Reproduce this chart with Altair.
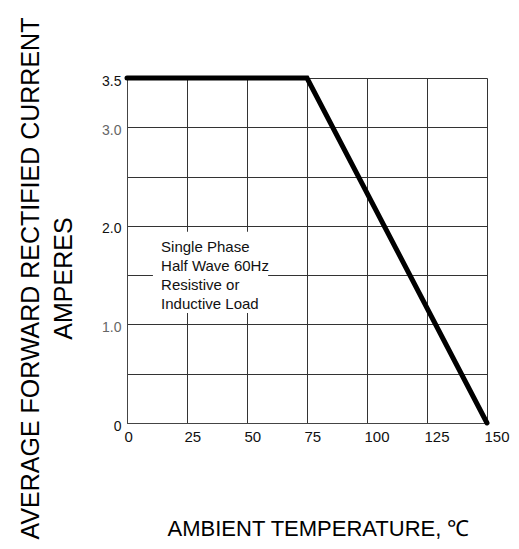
import altair as alt
import pandas as pd

# Derating curve
temp = [0, 75, 150]
current = [3.5, 3.5, 0]

# Annotation box (data coordinates)
box_x = [10.8]
box_x2 = [58.8]
box_y = [1.94]
box_y2 = [1.115]

note_lines = ["Single Phase", "Half Wave 60Hz", "Resistive or", "Inductive Load"]
note_x = [14.2, 14.2, 14.2, 14.2]
note_y = [1.79, 1.595, 1.40, 1.207]

x_ticks = [0, 25, 50, 75, 100, 125, 150]
y_ticks = [0, 0.5, 1.0, 1.5, 2.0, 2.5, 3.0, 3.5]

FONT = "Liberation Sans"

curve = pd.DataFrame({"t": temp, "i": current})
box = pd.DataFrame({"x": box_x, "x2": box_x2, "y": box_y, "y2": box_y2})
notes = pd.DataFrame({"label": note_lines, "x": note_x, "y": note_y})

xscale = alt.Scale(domain=[0, 150], nice=False, zero=False)
yscale = alt.Scale(domain=[0, 3.5], nice=False, zero=False)

xaxis = alt.Axis(
    values=x_ticks,
    title="AMBIENT TEMPERATURE, ℃",
    titleFont=FONT, titleFontSize=22, titleFontWeight="normal", titleColor="#000",
    titleX=191, titleY=112, titleAlign="center", titleBaseline="alphabetic",
    labelFont=FONT, labelFontSize=15, labelColor="#111",
    labelAlign="left", labelOffset=-3, labelPadding=6, labelBaseline="top",
    ticks=False, grid=True, gridColor="#333", gridWidth=1,
    domainColor="#444", labelFlush=False, labelOverlap=False,
)
yaxis = alt.Axis(
    values=y_ticks,
    title=["AVERAGE FORWARD RECTIFIED CURRENT", "AMPERES"],
    titleFont=FONT, titleFontSize=25, titleFontWeight="normal", titleColor="#000",
    titleX=-97, titleY=200, titleAlign="center", titleBaseline="middle",
    titleAngle=-90, titleLineHeight=33,
    labelFont=FONT, labelFontSize=14,
    labelColor={"condition": {"test": "datum.value == 1 || datum.value == 3", "value": "#666"}, "value": "#111"},
    labelExpr="datum.value == 0 ? '0' : ((datum.value % 1 == 0) || datum.value == 3.5) ? format(datum.value, '.1f') : ''",
    labelOffset=3, labelPadding=6, labelBaseline="middle",
    ticks=False, grid=True, gridColor="#333", gridWidth=1,
    domainColor="#444", labelFlush=False, labelOverlap=False,
)

rect = alt.Chart(box).mark_rect(color="white").encode(
    x=alt.X("x:Q", scale=xscale, axis=xaxis),
    x2="x2:Q",
    y=alt.Y("y:Q", scale=yscale, axis=yaxis),
    y2="y2:Q",
)

text = alt.Chart(notes).mark_text(
    align="left", baseline="middle", font=FONT, fontSize=15, color="#111"
).encode(
    x=alt.X("x:Q", scale=xscale),
    y=alt.Y("y:Q", scale=yscale),
    text="label:N",
)

line = alt.Chart(curve).mark_line(color="black", strokeWidth=5, strokeCap="round").encode(
    x=alt.X("t:Q", scale=xscale),
    y=alt.Y("i:Q", scale=yscale),
)

chart = alt.layer(rect, text, line).properties(
    width=360,
    height=345,
    padding={"left": 119, "top": 70, "right": 24, "bottom": 118},
    autosize=alt.AutoSizeParams(type="none"),
).configure_view(stroke="#333", strokeWidth=1).configure(background="white")

chart.save("out.html", embed_options={"renderer": "svg", "actions": False})
